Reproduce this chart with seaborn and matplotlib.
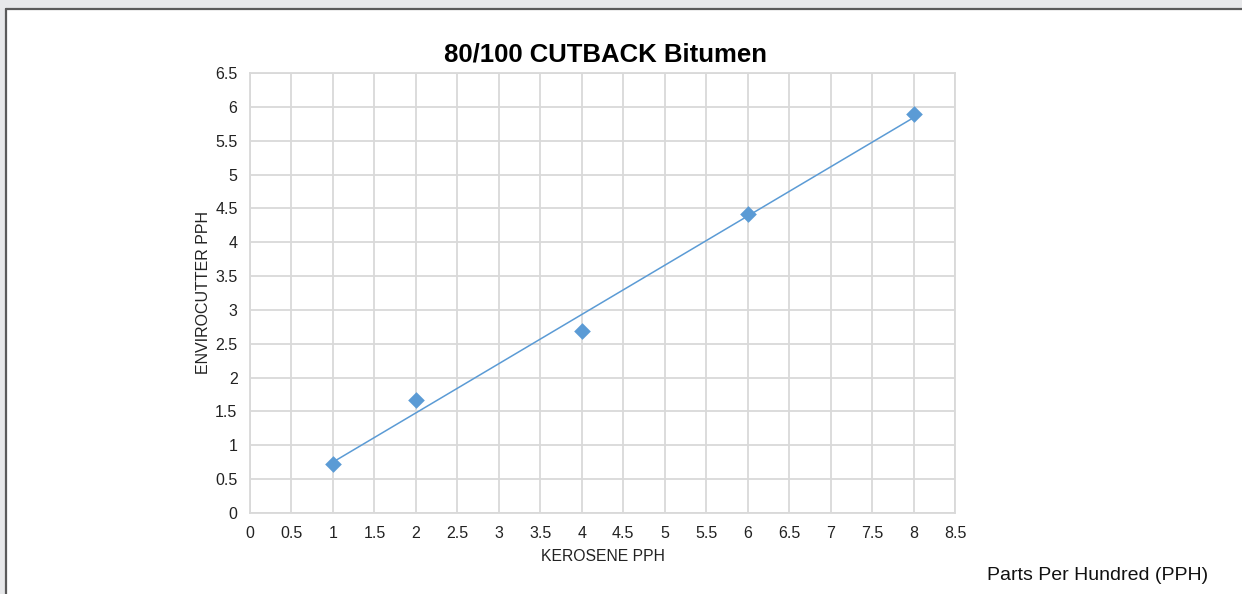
import matplotlib
matplotlib.use("Agg")
import matplotlib.pyplot as plt
import seaborn as sns
import pandas as pd
from matplotlib.patches import Rectangle
from matplotlib.lines import Line2D

kerosene = [1, 2, 4, 6, 8]
envirocutter = [0.72, 1.67, 2.69, 4.41, 5.90]
x_ticks = [0, 0.5, 1, 1.5, 2, 2.5, 3, 3.5, 4, 4.5, 5, 5.5, 6, 6.5, 7, 7.5, 8, 8.5]
y_ticks = [0, 0.5, 1, 1.5, 2, 2.5, 3, 3.5, 4, 4.5, 5, 5.5, 6, 6.5]
title = "80/100 CUTBACK Bitumen"
xlabel = "KEROSENE PPH"
ylabel = "ENVIROCUTTER PPH"
note = "Parts Per Hundred (PPH)"

df = pd.DataFrame({"x": kerosene, "y": envirocutter})

sns.set_style("white")
plt.rcParams['font.family'] = ['Liberation Sans', 'DejaVu Sans']

W, H = 1242, 594
fig = plt.figure(figsize=(W / 100, H / 100), dpi=100, facecolor="#e7e8ea")
fig.patches.append(Rectangle((6 / W, 0), 1.0, 1 - 9 / H, transform=fig.transFigure,
                             facecolor="white", edgecolor="none", zorder=-5))
fig.lines.append(Line2D([6 / W, 1.0], [1 - 9 / H, 1 - 9 / H], transform=fig.transFigure,
                        color="#5a5a5a", linewidth=1.6, zorder=-4))
fig.lines.append(Line2D([6 / W, 6 / W], [0, 1 - 9 / H], transform=fig.transFigure,
                        color="#5a5a5a", linewidth=1.6, zorder=-4))

ax = fig.add_axes([250 / W, 1 - 513 / H, (955 - 250) / W, (513 - 73) / H])
ax.set_facecolor("white")
blue = "#5b9bd5"
sns.regplot(data=df, x="x", y="y", ax=ax, ci=None, truncate=True,
            marker="D", color=blue,
            scatter_kws={"s": 72, "linewidths": 0, "zorder": 3, "alpha": 1},
            line_kws={"linewidth": 1.1, "zorder": 2})

ax.set_xlim(0, 8.5)
ax.set_ylim(0, 6.5)
ax.set_xticks(x_ticks)
ax.set_yticks(y_ticks)
ax.set_xticklabels([f"{v:g}" for v in x_ticks])
ax.set_yticklabels([f"{v:g}" for v in y_ticks])
ax.grid(True, color="#d9d9d9", linewidth=1.3)
ax.set_axisbelow(True)
for s in ax.spines.values():
    s.set_color("#d9d9d9")
    s.set_linewidth(1.3)
ax.tick_params(length=0, labelsize=11.5, colors="#222222", pad=9)
ax.set_xlabel(xlabel, fontsize=11.3, color="#222222", labelpad=6)
ax.set_ylabel(ylabel, fontsize=11.5, color="#222222", labelpad=3)

fig.text(605 / W, 1 - 54 / H, title, ha="center", va="center", fontsize=18.5,
         fontweight="bold", color="#000000")
fig.text(1208 / W, 1 - 576 / H, note, ha="right", va="center", fontsize=14, color="#111111")

fig.savefig("out.png", dpi=100, facecolor=fig.get_facecolor())
